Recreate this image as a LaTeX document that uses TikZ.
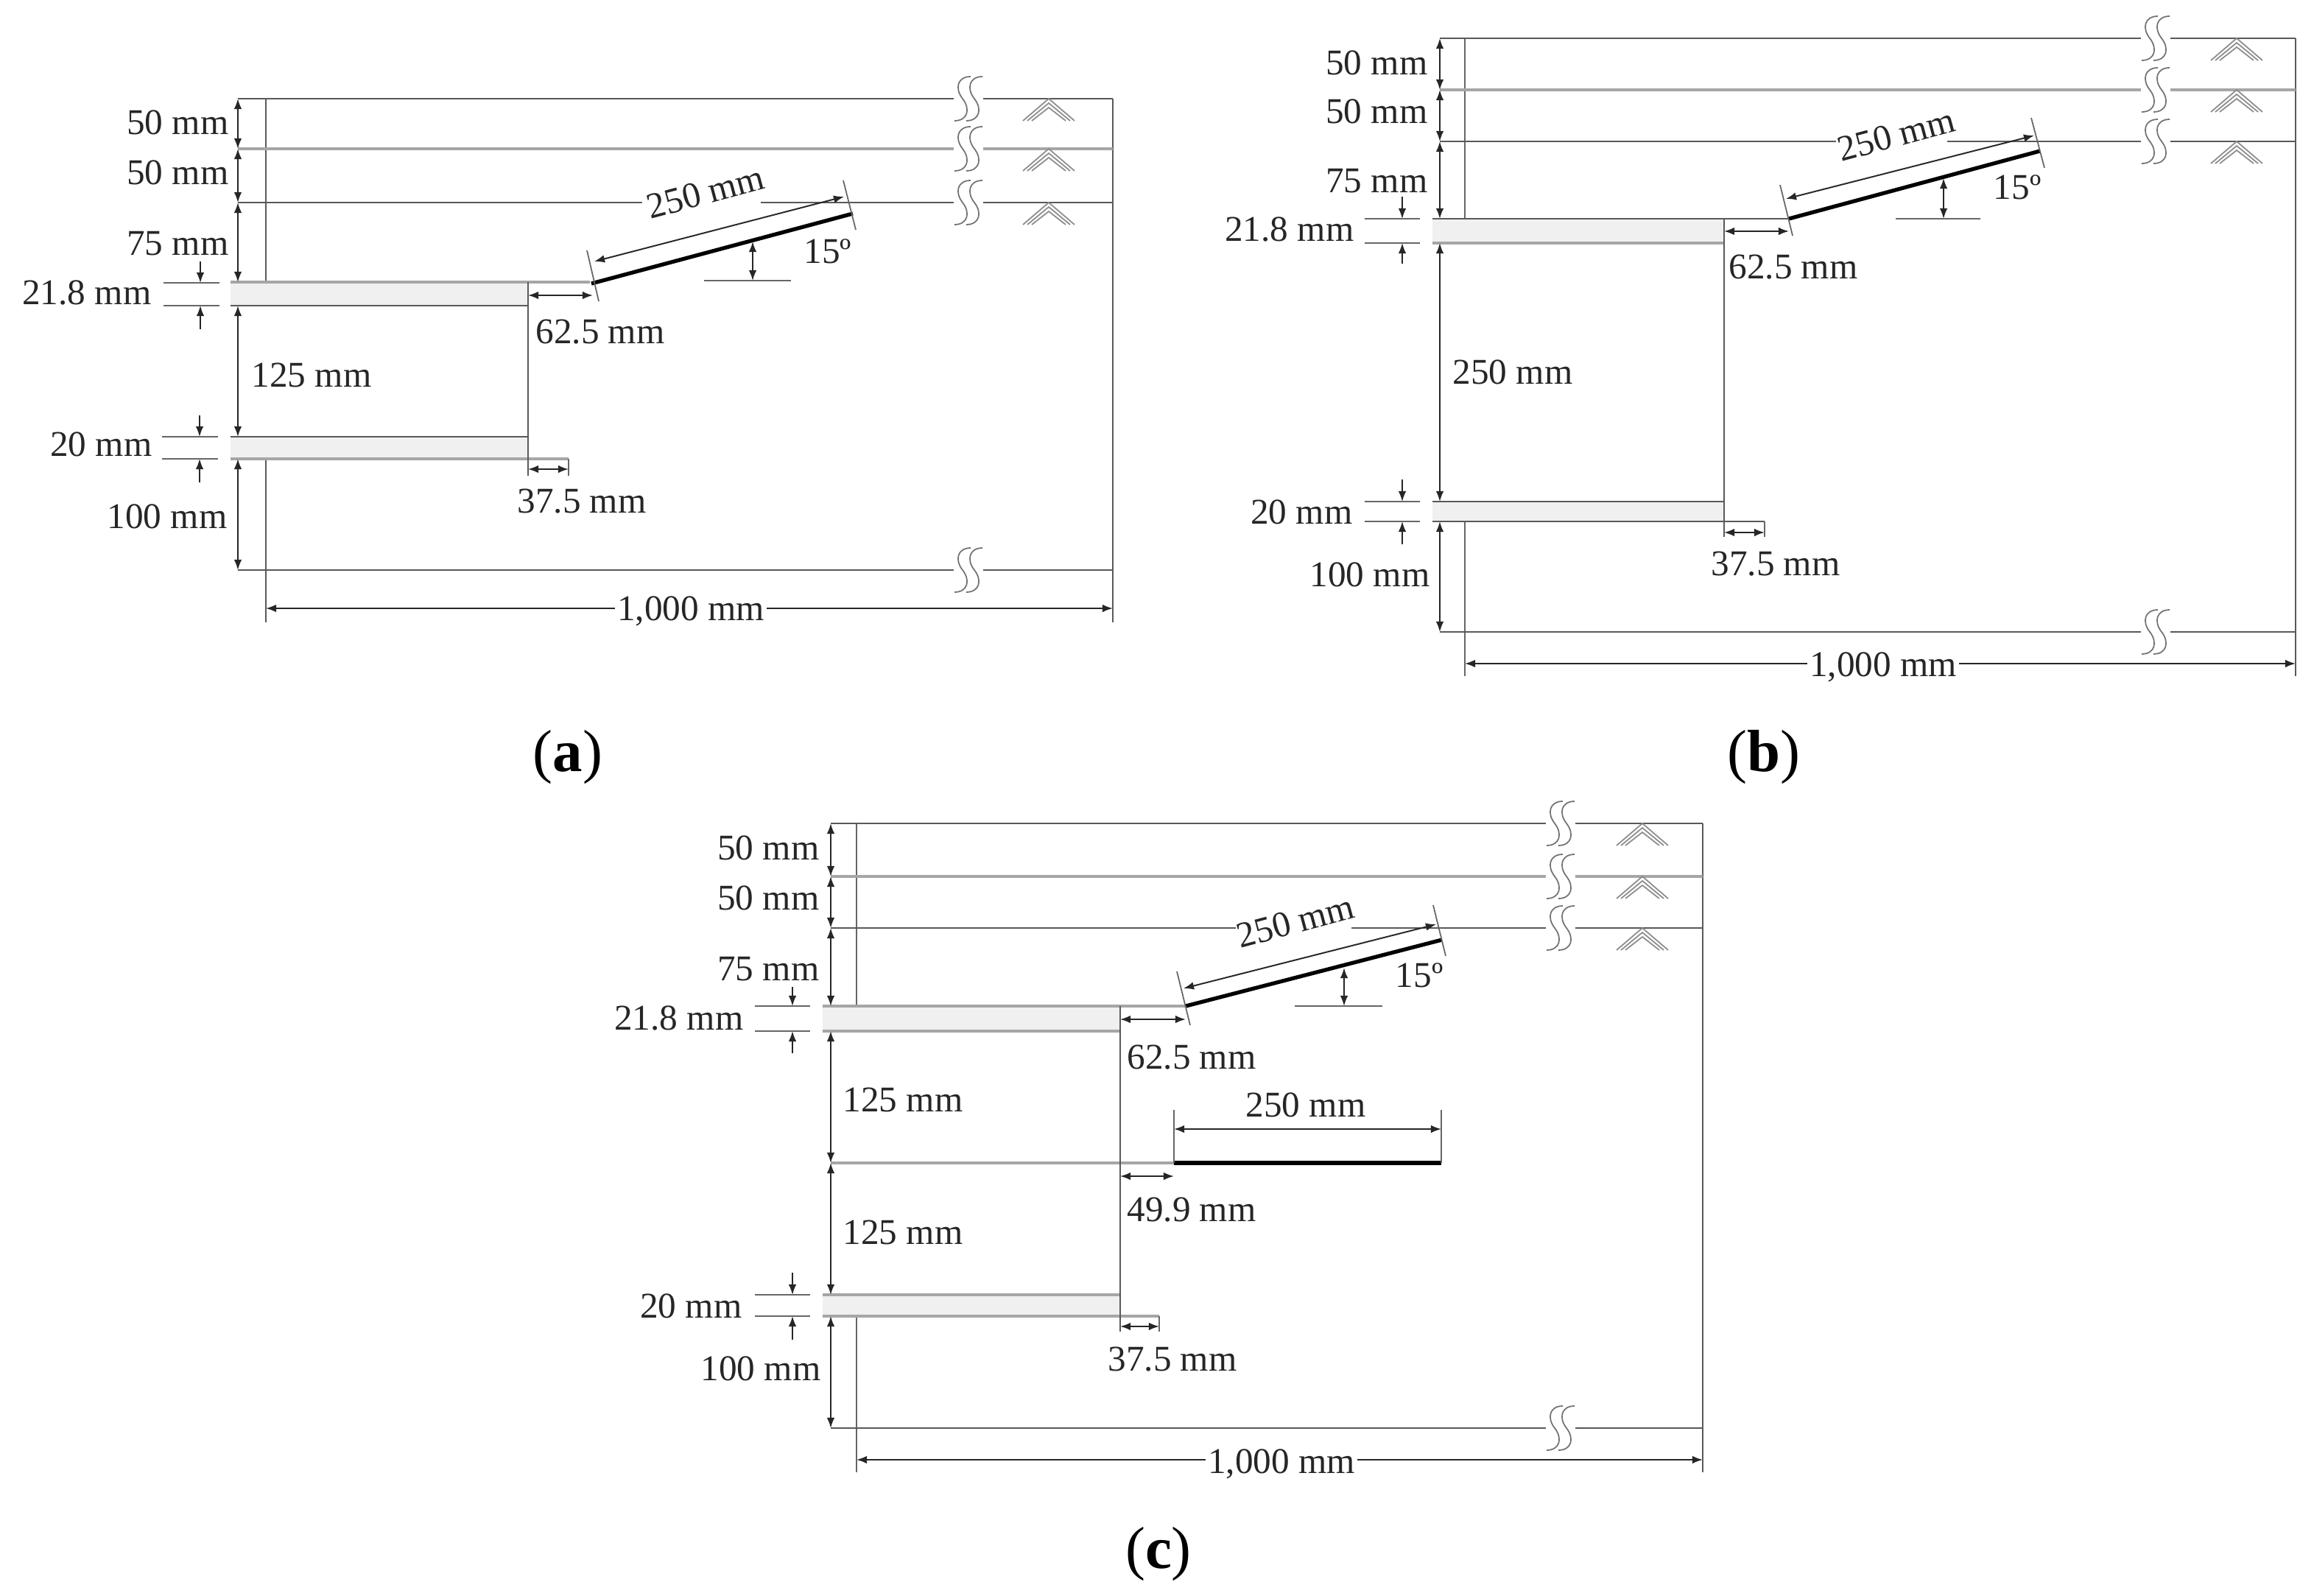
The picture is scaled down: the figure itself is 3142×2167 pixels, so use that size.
\documentclass[tikz,border=0pt]{standalone}
\usepackage{fontspec}
\setmainfont{Liberation Serif}
\usetikzlibrary{arrows.meta}
\begin{document}
\begin{tikzpicture}[x=0.01cm, y=-0.01cm, >={Latex[length=4pt,width=3pt]}, font=\fontsize{14}{16}\selectfont]
    \tikzstyle{wall} = [color=black!65, line width=0.6pt]
    \tikzstyle{soil} = [color=black!35, line width=0.9pt]
    \tikzstyle{guide} = [color=black!60, line width=0.5pt]
    \tikzstyle{dimline} = [color=black!85, line width=0.55pt, <->]
    \tikzstyle{pointer} = [color=black!85, line width=0.5pt, ->]
    \tikzstyle{slab} = [fill=black!6, draw=none]
    \tikzstyle{blade} = [color=black, line width=1.5pt]
    \tikzstyle{brk} = [color=black!55, line width=0.5pt]
    \tikzstyle{hatching} = [color=black!45, line width=0.5pt]
    \tikzstyle{lbl} = [text=black!85, inner sep=0pt]
    \useasboundingbox (0, 0) rectangle (3142, 2167);

    % panel a
    \begin{scope}[shift={(361, 134)}, name prefix=a]
        \draw[wall] (0, 0) -- (0, 249);
        \draw[wall] (0, 489) -- (0, 711);
        \draw[wall] (1150, 0) -- (1150, 711);
        \draw[slab] (-48, 249) rectangle (356, 281);
        \draw[slab] (-48, 459) rectangle (356, 489);
        \draw[wall] (-38, 0) -- (934, 0);
        \draw[soil] (-38, 68) -- (934, 68);
        \draw[wall] (-38, 141) -- (511, 141);
        \draw[wall] (672, 141) -- (934, 141);
        \foreach \yy/\ls in {0/wall, 68/soil, 141/wall} {
            \draw[\ls] (974, \yy) -- (1150, \yy);
            \foreach \k in {0, 6, 12}
                \draw[hatching] ({1063-35+\k}, {\yy+30}) -- (1063, {\yy+\k}) -- ({1063+35-\k}, {\yy+30});
        }
        \draw[wall] (-38, 640) -- (934, 640);
        \draw[wall] (974, 640) -- (1150, 640);
        \foreach \yy in {0, 68, 141, 640}
            \foreach \dd in {946, 962}
                \draw[brk, shift={(\dd, \yy)}] (11, -30) .. controls (-7, -30) and (-11, -14) .. (0, 0) .. controls (11, 14) and (7, 30) .. (-11, 30);
        % slabs
        \draw[soil] (-48, 249) -- (440, 249);
        \draw[wall] (-48, 281) -- (356, 281);
        \draw[wall] (-48, 459) -- (356, 459);
        \draw[soil] (-48, 489) -- (411, 489);
        \draw[wall] (356, 249) -- (356, 512);
        \draw[guide] (411, 489) -- (411, 512);
        % blade
        \draw[blade] (442, 251) -- (797, 156);
        \draw[guide] (436, 206) -- (452, 275);
        \draw[guide] (784, 111) -- (801, 178);
        \draw[dimline] (446, 221) -- (785, 133);
        \draw[guide] (595, 247) -- (713, 247);
        \draw[dimline] (661, 194) -- (661, 247);
        \node[lbl, rotate=15] (blade) at (597, 127) {250 mm};
        \node[lbl] (angle) at (763, 207) {15º};
        % dimensions
        \draw[dimline] (-38, 0) -- (-38, 68);
        \draw[dimline] (-38, 68) -- (-38, 141);
        \draw[dimline] (-38, 141) -- (-38, 249);
        \draw[dimline] (-38, 281) -- (-38, 459);
        \draw[dimline] (-38, 489) -- (-38, 640);
        \draw[guide] (-139, 250) -- (-63, 250);
        \draw[guide] (-139, 281) -- (-63, 281);
        \draw[guide] (-141, 459) -- (-65, 459);
        \draw[guide] (-141, 489) -- (-65, 489);
        \draw[pointer] (-89, 221) -- (-89, 250);
        \draw[pointer] (-89, 313) -- (-89, 281);
        \draw[pointer] (-90, 430) -- (-90, 459);
        \draw[pointer] (-90, 521) -- (-90, 489);
        \draw[dimline] (356, 267) -- (444, 267);
        \draw[dimline] (356, 503) -- (411, 503);
        \node[lbl, anchor=east] (top) at (-50, 32) {50 mm};
        \node[lbl, anchor=east] (mid) at (-50, 100) {50 mm};
        \node[lbl, anchor=east] (low) at (-50, 197) {75 mm};
        \node[lbl, anchor=east] (upper) at (-155, 263) {21.8 mm};
        \node[lbl] (gap) at (62, 375) {125 mm};
        \node[lbl, anchor=east] (lower) at (-154, 469) {20 mm};
        \node[lbl, anchor=east] (base) at (-52, 567) {100 mm};
        \node[lbl] (over) at (454, 317) {62.5 mm};
        \node[lbl] (tail) at (429, 547) {37.5 mm};
        \draw[dimline] (0, 692) -- (1150, 692);
        \node[lbl, fill=white, inner xsep=1pt] (width) at (577, 696) {1,000 mm};
    \end{scope}

    % panel b
    \begin{scope}[shift={(1989, 52)}, name prefix=b]
        \draw[guide] (0, 0) -- (0, 245);
        \draw[guide] (0, 656) -- (0, 866);
        \draw[wall] (1128, 0) -- (1128, 866);
        \draw[slab] (-44, 245) rectangle (352, 278);
        \draw[slab] (-44, 629) rectangle (352, 656);
        \draw[wall] (-34, 0) -- (918, 0);
        \draw[soil] (-34, 70) -- (918, 70);
        \draw[wall] (-34, 140) -- (504, 140);
        \draw[wall] (655, 140) -- (918, 140);
        \foreach \yy/\ls in {0/wall, 70/soil, 140/wall} {
            \draw[\ls] (958, \yy) -- (1128, \yy);
            \foreach \k in {0, 6, 12}
                \draw[hatching] ({1048-35+\k}, {\yy+30}) -- (1048, {\yy+\k}) -- ({1048+35-\k}, {\yy+30});
        }
        \draw[wall] (-34, 806) -- (918, 806);
        \draw[wall] (958, 806) -- (1128, 806);
        \foreach \yy in {0, 70, 140, 806}
            \foreach \dd in {930, 946}
                \draw[brk, shift={(\dd, \yy)}] (11, -30) .. controls (-7, -30) and (-11, -14) .. (0, 0) .. controls (11, 14) and (7, 30) .. (-11, 30);
        % slabs
        \draw[wall] (-44, 245) -- (440, 245);
        \draw[soil] (-44, 278) -- (352, 278);
        \draw[wall] (-44, 629) -- (352, 629);
        \draw[wall] (-44, 656) -- (407, 656);
        \draw[wall] (352, 245) -- (352, 677);
        \draw[guide] (407, 656) -- (407, 677);
        % blade
        \draw[blade] (440, 245) -- (781, 153);
        \draw[guide] (428, 199) -- (445, 268);
        \draw[guide] (769, 108) -- (787, 176);
        \draw[dimline] (436, 218) -- (773, 132);
        \draw[guide] (585, 245) -- (700, 245);
        \draw[dimline] (650, 190) -- (650, 245);
        \node[lbl, rotate=15] (blade) at (586, 131) {250 mm};
        \node[lbl] (angle) at (750, 202) {15º};
        % dimensions
        \draw[dimline] (-34, 0) -- (-34, 70);
        \draw[dimline] (-34, 70) -- (-34, 140);
        \draw[dimline] (-34, 140) -- (-34, 245);
        \draw[dimline] (-34, 278) -- (-34, 629);
        \draw[dimline] (-34, 656) -- (-34, 806);
        \draw[guide] (-136, 245) -- (-61, 245);
        \draw[guide] (-136, 278) -- (-61, 278);
        \draw[guide] (-136, 629) -- (-61, 629);
        \draw[guide] (-136, 656) -- (-61, 656);
        \draw[pointer] (-85, 215) -- (-85, 245);
        \draw[pointer] (-85, 306) -- (-85, 278);
        \draw[pointer] (-85, 599) -- (-85, 629);
        \draw[pointer] (-85, 687) -- (-85, 656);
        \draw[dimline] (352, 262) -- (440, 262);
        \draw[dimline] (352, 671) -- (407, 671);
        \node[lbl, anchor=east] (top) at (-50, 33) {50 mm};
        \node[lbl, anchor=east] (mid) at (-50, 99) {50 mm};
        \node[lbl, anchor=east] (low) at (-50, 194) {75 mm};
        \node[lbl, anchor=east] (upper) at (-150, 259) {21.8 mm};
        \node[lbl] (gap) at (65, 453) {250 mm};
        \node[lbl, anchor=east] (lower) at (-152, 643) {20 mm};
        \node[lbl, anchor=east] (base) at (-47, 728) {100 mm};
        \node[lbl] (over) at (446, 311) {62.5 mm};
        \node[lbl] (tail) at (422, 714) {37.5 mm};
        \draw[dimline] (0, 849) -- (1128, 849);
        \node[lbl, fill=white, inner xsep=1pt] (width) at (568, 854) {1,000 mm};
    \end{scope}

    % panel c
    \begin{scope}[shift={(1163, 1118)}, name prefix=c]
        \draw[guide] (0, 0) -- (0, 248);
        \draw[guide] (0, 669) -- (0, 881);
        \draw[wall] (1149, 0) -- (1149, 881);
        \draw[slab] (-46, 248) rectangle (358, 282);
        \draw[slab] (-46, 640) rectangle (358, 669);
        \draw[wall] (-35, 0) -- (936, 0);
        \draw[soil] (-35, 72) -- (936, 72);
        \draw[wall] (-35, 142) -- (515, 142);
        \draw[wall] (672, 142) -- (936, 142);
        \foreach \yy/\ls in {0/wall, 72/soil, 142/wall} {
            \draw[\ls] (976, \yy) -- (1149, \yy);
            \foreach \k in {0, 6, 12}
                \draw[hatching] ({1067-35+\k}, {\yy+30}) -- (1067, {\yy+\k}) -- ({1067+35-\k}, {\yy+30});
        }
        \draw[wall] (-35, 821) -- (936, 821);
        \draw[wall] (976, 821) -- (1149, 821);
        \foreach \yy in {0, 72, 142, 821}
            \foreach \dd in {948, 964}
                \draw[brk, shift={(\dd, \yy)}] (11, -30) .. controls (-7, -30) and (-11, -14) .. (0, 0) .. controls (11, 14) and (7, 30) .. (-11, 30);
        % slabs
        \draw[soil] (-46, 248) -- (447, 248);
        \draw[soil] (-46, 282) -- (358, 282);
        \draw[soil] (-35, 461) -- (431, 461);
        \draw[soil] (-46, 640) -- (358, 640);
        \draw[soil] (-46, 669) -- (411, 669);
        \draw[wall] (358, 248) -- (358, 690);
        \draw[guide] (411, 669) -- (411, 690);
        % blades
        \draw[blade] (447, 248) -- (795, 158);
        \draw[guide] (435, 201) -- (453, 274);
        \draw[guide] (783, 111) -- (800, 180);
        \draw[dimline] (444, 224) -- (787, 137);
        \draw[guide] (595, 248) -- (714, 248);
        \draw[dimline] (662, 196) -- (662, 248);
        \node[lbl, rotate=15] (blade) at (596, 133) {250 mm};
        \node[lbl] (angle) at (764, 206) {15º};
        \draw[blade] (431, 461) -- (794, 461);
        \draw[guide] (431, 389) -- (431, 461);
        \draw[guide] (794, 389) -- (794, 461);
        \draw[dimline] (431, 415) -- (794, 415);
        \node[lbl] (flat) at (610, 382) {250 mm};
        % dimensions
        \draw[dimline] (-35, 0) -- (-35, 72);
        \draw[dimline] (-35, 72) -- (-35, 142);
        \draw[dimline] (-35, 142) -- (-35, 248);
        \draw[dimline] (-35, 282) -- (-35, 461);
        \draw[dimline] (-35, 461) -- (-35, 640);
        \draw[dimline] (-35, 669) -- (-35, 821);
        \draw[guide] (-138, 248) -- (-63, 248);
        \draw[guide] (-138, 282) -- (-63, 282);
        \draw[guide] (-138, 640) -- (-63, 640);
        \draw[guide] (-138, 669) -- (-63, 669);
        \draw[pointer] (-87, 222) -- (-87, 248);
        \draw[pointer] (-87, 312) -- (-87, 282);
        \draw[pointer] (-87, 610) -- (-87, 640);
        \draw[pointer] (-87, 701) -- (-87, 669);
        \draw[dimline] (358, 266) -- (447, 266);
        \draw[dimline] (358, 479) -- (431, 479);
        \draw[dimline] (358, 683) -- (411, 683);
        \node[lbl, anchor=east] (top) at (-50, 33) {50 mm};
        \node[lbl, anchor=east] (mid) at (-50, 101) {50 mm};
        \node[lbl, anchor=east] (low) at (-50, 198) {75 mm};
        \node[lbl, anchor=east] (upper) at (-153, 264) {21.8 mm};
        \node[lbl] (gapone) at (63, 375) {125 mm};
        \node[lbl] (gaptwo) at (63, 555) {125 mm};
        \node[lbl, anchor=east] (lower) at (-155, 655) {20 mm};
        \node[lbl, anchor=east] (base) at (-48, 740) {100 mm};
        \node[lbl] (over) at (455, 318) {62.5 mm};
        \node[lbl] (under) at (455, 525) {49.9 mm};
        \node[lbl] (tail) at (429, 728) {37.5 mm};
        \draw[dimline] (0, 864) -- (1149, 864);
        \node[lbl, fill=white, inner xsep=1pt] (width) at (577, 870) {1,000 mm};
    \end{scope}

    \node[font=\fontsize{23}{27}\selectfont] (capa) at (771, 1028) {(\textbf{a})};
    \node[font=\fontsize{23}{27}\selectfont] (capb) at (2395, 1028) {(\textbf{b})};
    \node[font=\fontsize{23}{27}\selectfont] (capc) at (1573, 2110) {(\textbf{c})};
\end{tikzpicture}
\end{document}
